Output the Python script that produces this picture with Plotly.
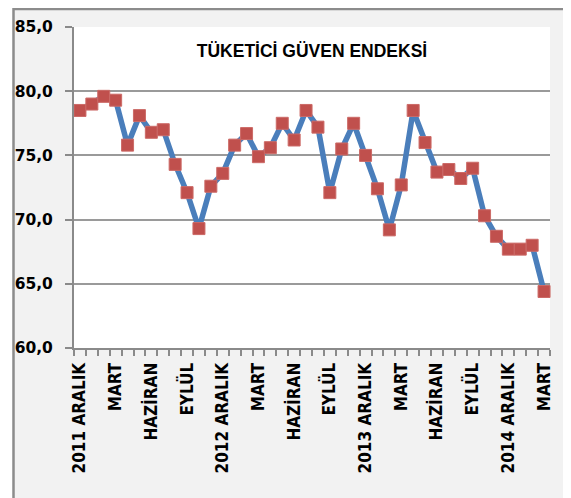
import plotly.graph_objects as go

# Monthly consumer confidence index, Dec 2011 .. Mar 2015 (40 months)
values = [78.5, 79.0, 79.6, 79.3, 75.8, 78.1, 76.8, 77.0, 74.3, 72.1,
          69.3, 72.6, 73.6, 75.8, 76.7, 74.9, 75.6, 77.5, 76.2, 78.5,
          77.2, 72.1, 75.5, 77.5, 75.0, 72.4, 69.2, 72.7, 78.5, 76.0,
          73.7, 73.9, 73.2, 74.0, 70.3, 68.7, 67.7, 67.7, 68.0, 64.4]
month_index = list(range(len(values)))

tick_positions = [0, 3, 6, 9, 12, 15, 18, 21, 24, 27, 30, 33, 36, 39]
tick_labels = ["2011 ARALIK", "MART", "HAZİRAN", "EYLÜL",
               "2012 ARALIK", "MART", "HAZİRAN", "EYLÜL",
               "2013 ARALIK", "MART", "HAZİRAN", "EYLÜL",
               "2014 ARALIK", "MART"]

title_text = "TÜKETİCİ GÜVEN ENDEKSİ"

AXIS = "#8a8a8a"
GRID = "#9a9a9a"
FRAME_BG = "#f2f2f2"

# The page body has an 8px margin, so the figure is sized to fit the window.
W, H = 563, 490
# frame edges in paper units (plot area spans x 66..542, y 19..340 px in figure)
fx0, fx1, fy1 = -0.1271, 1.0336, 1.056

fig = go.Figure()
fig.add_trace(go.Scatter(
    x=month_index, y=values, mode="lines+markers",
    line=dict(color="#4a7ebb", width=5.5),
    marker=dict(symbol="square", size=12, color="#c0504d",
                line=dict(color="#cc6a67", width=1)),
    cliponaxis=False, showlegend=False,
))

white_strip = dict(type="rect", xref="paper", yref="paper", fillcolor="white",
                   line=dict(width=0), layer="above")

fig.update_layout(
    width=W, height=H,
    margin=dict(l=66, r=21, t=19, b=150, autoexpand=False),
    paper_bgcolor=FRAME_BG, plot_bgcolor="white",
    separators=",.",
    title=dict(text=title_text, x=0.5, xref="paper", xanchor="center",
               y=1 - 43 / H, yref="container", yanchor="middle",
               font=dict(family="Liberation Sans", size=17.5, weight="bold", color="black")),
    shapes=[
        dict(white_strip, x0=-0.2, x1=fx0, y0=-0.6, y1=1.2),
        dict(white_strip, x0=fx1, x1=1.2, y0=-0.6, y1=1.2),
        dict(white_strip, x0=-0.2, x1=1.2, y0=fy1, y1=1.2),
        dict(type="rect", xref="paper", yref="paper",
             x0=fx0, x1=fx1, y0=-0.52, y1=fy1,
             fillcolor="rgba(0,0,0,0)", line=dict(color="#8c8c8c", width=2.5),
             layer="above"),
    ],
)

fig.update_xaxes(
    range=[-0.5, len(values) - 0.5], automargin=False,
    tickmode="array", tickvals=tick_positions, ticktext=tick_labels,
    tickangle=-90, ticks="", ticklabelstandoff=6,
    tickfont=dict(family="Liberation Sans Narrow, DejaVu Sans Condensed, sans-serif",
                  size=17, weight="bold", color="black"),
    showline=True, linecolor=AXIS, linewidth=2,
    showgrid=False, zeroline=False,
    minor=dict(tickmode="linear", tick0=-0.5, dtick=1, ticks="outside",
               ticklen=6, tickwidth=1.5, tickcolor=AXIS, showgrid=False),
)

fig.update_yaxes(
    range=[60, 85], tickmode="linear", tick0=60, dtick=5, tickformat=".1f",
    automargin=False,
    ticks="outside", ticklen=7, tickwidth=1.5, tickcolor=AXIS,
    ticklabelstandoff=9,
    tickfont=dict(family="DejaVu Sans", size=15.5, weight="bold", color="black"),
    showline=True, linecolor=AXIS, linewidth=2,
    showgrid=True, gridcolor=GRID, gridwidth=1.7, zeroline=False,
)

fig.write_html("out.html")
